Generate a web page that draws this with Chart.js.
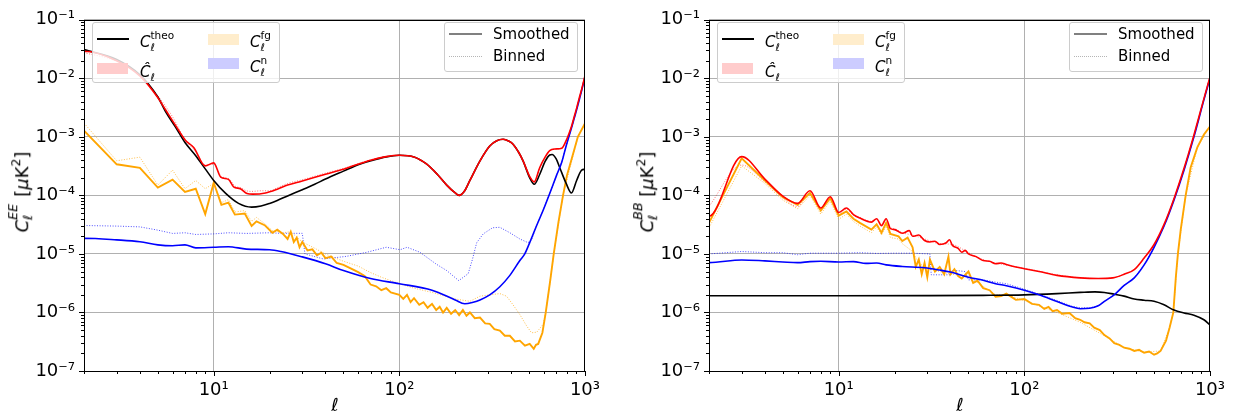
<!doctype HTML>
<html lang="en">
<head>
    <meta charset=utf-8>
    <title>EE / BB spectra</title>
    <style type="text/css">
        * { padding: 0; margin: 0; }
        body { width: 1234px; height: 419px; position: relative; overflow: hidden; background: #fff; font-family: 'DejaVu Sans'; color: #000; }
        .panel { position: absolute; top: 0; width: 609px; height: 419px; }
        canvas { position: absolute; left: 0; top: 0; }
        .box { position: absolute; box-sizing: border-box; background: rgba(255,255,255,0.8); border: 1px solid #ccc; border-radius: 3px; }
        .lg { position: absolute; font-size: 15px; line-height: 15px; white-space: nowrap; }
        .hl { position: absolute; height: 2px; }
        .dl { position: absolute; height: 0; border-top: 1px dotted #b5b5b5; }
        .patch { position: absolute; width: 31px; height: 11px; }
        .m { font-style: italic; }
        .ss { display: inline-block; position: relative; height: 1em; vertical-align: baseline; }
        .ss span { position: absolute; left: 0; font-size: 0.7em; line-height: 1; white-space: nowrap; }
        .ss .up { top: -0.17em; }
        .ss .dn { top: 1.01em; }
        .sq { font-size: 0.7em; vertical-align: 0.6em; }
        .xl { position: absolute; left: 335px; top: 396px; font-size: 18px; line-height: 18px; font-style: italic; transform: translateX(-50%); }
        .yl { position: absolute; left: 19px; top: 192px; font-size: 18px; line-height: 18px; white-space: nowrap; transform: translate(-50%, -50%) rotate(-90deg); }
    </style>
    <script src="https://cdn.jsdelivr.net/npm/chart.js"></script>
</head>
<body>
    <div class="panel" id="pEE" style="left:0"><canvas id="cEE" width="609" height="419"></canvas></div>
    <div class="panel" id="pBB" style="left:625px"><canvas id="cBB" width="609" height="419"></canvas></div>

    <script type="text/javascript">
        // axis decades
        const xMajor = [10, 100, 1000];
        const yMajor = [1e-7, 1e-6, 1e-5, 1e-4, 1e-3, 1e-2, 1e-1];

        // ---- EE panel ----
        const eeTheoL = [2, 3, 4, 5, 5.5, 6.2, 7, 8, 9, 10, 11.6, 13.6, 16, 18, 20, 22, 25, 30, 35, 40, 50, 60, 70, 85, 100, 120, 140, 160, 180, 200, 210, 225, 240, 272, 307, 335, 362, 390, 410, 440, 464, 504, 533, 571, 610, 646, 665, 700, 731, 792, 846, 902, 960, 1000];
        const eeTheoV = [3.1e-2, 2.1e-2, 1.15e-2, 4.8e-3, 2.7e-3, 1.5e-3, 8.0e-4, 4.75e-4, 2.84e-4, 1.8e-4, 1.08e-4, 7.3e-5, 6.3e-5, 6.6e-5, 7.3e-5, 8.2e-5, 9.8e-5, 1.25e-4, 1.55e-4, 1.9e-4, 2.6e-4, 3.35e-4, 3.9e-4, 4.55e-4, 4.85e-4, 4.55e-4, 3.45e-4, 2.3e-4, 1.5e-4, 1.1e-4, 1.0e-4, 1.2e-4, 1.8e-4, 3.9e-4, 7.0e-4, 8.6e-4, 9.1e-4, 8.4e-4, 7.5e-4, 5.4e-4, 3.9e-4, 2.0e-4, 1.55e-4, 2.3e-4, 3.8e-4, 4.9e-4, 5.0e-4, 4.2e-4, 3.0e-4, 1.6e-4, 1.1e-4, 1.8e-4, 2.7e-4, 2.8e-4];

        const eeHatL = [2, 2, 3, 4, 4.97, 5.5, 6.2, 7.05, 7.8, 9, 10, 10.9, 12, 12.8, 13.9, 15.1, 16.2, 19, 22.3, 25, 30, 40, 50, 70, 85, 100, 120, 140, 160, 180, 200, 210, 225, 240, 272, 307, 335, 362, 390, 410, 440, 464, 504, 533, 571, 610, 646, 690, 750, 792, 820, 846, 875, 902, 930, 960, 1000];
        const eeHatV = [1e-12, 2.9e-2, 2.0e-2, 1.1e-2, 4.8e-3, 2.9e-3, 1.6e-3, 8.7e-4, 6.6e-4, 3.2e-4, 3.6e-4, 2.06e-4, 1.88e-4, 1.4e-4, 1.3e-4, 1.08e-4, 1.05e-4, 1.1e-4, 1.3e-4, 1.5e-4, 1.76e-4, 2.3e-4, 2.8e-4, 4.0e-4, 4.6e-4, 4.85e-4, 4.55e-4, 3.45e-4, 2.3e-4, 1.5e-4, 1.1e-4, 1.0e-4, 1.2e-4, 1.8e-4, 3.9e-4, 7.0e-4, 8.6e-4, 9.1e-4, 8.4e-4, 7.5e-4, 5.4e-4, 3.9e-4, 2.1e-4, 1.7e-4, 3.0e-4, 4.5e-4, 5.8e-4, 6.2e-4, 6.4e-4, 8.6e-4, 1.13e-3, 1.5e-3, 2.2e-3, 3.1e-3, 4.5e-3, 6.5e-3, 1.1e-2];
        const eeHatBinL = [2, 3, 4, 5, 6, 7, 8, 9, 10, 11, 12, 13, 14, 15, 16, 18, 20, 22, 25, 30, 40, 50, 70, 85, 100, 120, 140, 160, 180, 200, 210, 225, 240, 272, 307, 362, 410, 464, 504, 533, 571, 610, 646, 690, 750, 792, 846, 902, 960, 1000];
        const eeHatBinV = [2.75e-2, 1.95e-2, 1.1e-2, 5.0e-3, 2.2e-3, 9.0e-4, 5.6e-4, 3.3e-4, 3.4e-4, 2.1e-4, 1.95e-4, 1.45e-4, 1.35e-4, 1.2e-4, 1.17e-4, 1.2e-4, 1.2e-4, 1.35e-4, 1.6e-4, 1.85e-4, 2.4e-4, 2.9e-4, 4.05e-4, 4.6e-4, 4.85e-4, 4.55e-4, 3.45e-4, 2.3e-4, 1.5e-4, 1.1e-4, 1.0e-4, 1.2e-4, 1.8e-4, 3.9e-4, 7.0e-4, 9.1e-4, 7.5e-4, 3.9e-4, 2.1e-4, 1.7e-4, 3.0e-4, 4.5e-4, 5.8e-4, 6.2e-4, 6.4e-4, 8.6e-4, 1.5e-3, 3.1e-3, 6.5e-3, 1.1e-2];

        const eeFgL = [2, 2, 3, 4, 5, 6, 7, 8, 9, 10, 11, 12, 13, 14.7, 16, 17, 18.8, 20.7, 22, 23.6, 25, 26, 27, 28, 29, 30, 32, 34, 36, 38, 40, 43, 46, 50, 55, 60, 65, 70, 75, 80, 85, 90, 100, 105, 110, 115, 120, 128, 135, 142, 150, 158, 165, 172, 180, 190, 200, 210, 220, 230, 240, 255, 272, 290, 307, 325, 348, 370, 394, 420, 446, 475, 504, 530, 545, 560, 590, 615, 650, 679, 720, 762, 800, 850, 916, 1000];
        const eeFgV = [1e-12, 1.28e-3, 3.4e-4, 2.95e-4, 1.36e-4, 1.86e-4, 1.15e-4, 1.3e-4, 4.8e-5, 1.65e-4, 6.9e-5, 7.5e-5, 4.7e-5, 4.9e-5, 3.0e-5, 3.6e-5, 3.1e-5, 2.3e-5, 2.6e-5, 2.2e-5, 1.8e-5, 2.4e-5, 1.6e-5, 1.9e-5, 1.3e-5, 1.6e-5, 1.15e-5, 1.2e-5, 9.5e-6, 1.05e-5, 8.5e-6, 9.0e-6, 7.0e-6, 6.5e-6, 5.6e-6, 4.9e-6, 4.2e-6, 3.0e-6, 2.8e-6, 2.4e-6, 2.6e-6, 2.2e-6, 2.0e-6, 1.7e-6, 2.0e-6, 1.5e-6, 1.75e-6, 1.35e-6, 1.5e-6, 1.2e-6, 1.4e-6, 1.1e-6, 1.25e-6, 1.0e-6, 1.2e-6, 9.5e-7, 1.1e-6, 9.0e-7, 1.1e-6, 8.8e-7, 1.0e-6, 8.0e-7, 8.2e-7, 6.5e-7, 6.4e-7, 5.2e-7, 4.9e-7, 4.0e-7, 4.0e-7, 3.2e-7, 3.3e-7, 2.7e-7, 2.9e-7, 2.4e-7, 2.8e-7, 2.9e-7, 4.5e-7, 1.0e-6, 3.5e-6, 1.0e-5, 3.5e-5, 1.0e-4, 2.2e-4, 4.3e-4, 1.0e-3, 1.7e-3];
        const eeFgBinL = [2, 3, 4, 5, 6, 7, 8, 9, 10, 11, 12, 13, 14.7, 16, 17, 18.8, 20.7, 23.6, 26, 30, 35, 40, 50, 60, 70, 80, 100, 120, 150, 200, 240, 272, 307, 348, 378, 410, 446, 485, 515, 550, 596, 615, 650, 679, 762, 916, 1000];
        const eeFgBinV = [1.72e-3, 3.9e-4, 4.5e-4, 1.5e-4, 2.7e-4, 1.3e-4, 1.8e-4, 1.3e-4, 1.6e-4, 7.5e-5, 8.5e-5, 5.2e-5, 5.5e-5, 3.6e-5, 4.2e-5, 3.3e-5, 2.5e-5, 2.3e-5, 2.4e-5, 1.6e-5, 1.25e-5, 1.0e-5, 7.5e-6, 6.2e-6, 4.8e-6, 4.0e-6, 3.1e-6, 2.6e-6, 2.2e-6, 1.7e-6, 1.55e-6, 1.9e-6, 2.0e-6, 2.1e-6, 1.9e-6, 1.35e-6, 9.2e-7, 5.9e-7, 4.5e-7, 4.6e-7, 6.3e-7, 1.0e-6, 3.5e-6, 1.0e-5, 1.0e-4, 1.0e-3, 1.7e-3];

        const eeNoiseL = [2, 2, 3, 4, 5, 6, 7, 8, 10, 12, 15, 20, 23, 30, 40, 50, 70, 100, 150, 200, 225, 250, 272, 307, 348, 394, 446, 474, 504, 548, 597, 646, 703, 750, 792, 846, 902, 960, 1000];
        const eeNoiseV = [1e-12, 1.85e-5, 1.74e-5, 1.62e-5, 1.43e-5, 1.38e-5, 1.43e-5, 1.27e-5, 1.3e-5, 1.33e-5, 1.21e-5, 1.18e-5, 1.1e-5, 8.9e-6, 6.8e-6, 5.2e-6, 3.8e-6, 3.1e-6, 2.4e-6, 1.64e-6, 1.41e-6, 1.5e-6, 1.64e-6, 2.0e-6, 2.75e-6, 4.3e-6, 7.7e-6, 1.0e-5, 1.56e-5, 3.0e-5, 5.7e-5, 1.08e-4, 2.2e-4, 3.7e-4, 7.0e-4, 1.42e-3, 2.9e-3, 6.2e-3, 1.05e-2];
        const eeNoiseBinL = [2, 3, 4, 5, 6, 7, 8, 10, 12, 15, 20, 23, 30, 31, 39, 52, 67, 85, 101, 110, 129, 158, 180, 209, 235, 248, 261, 283, 318, 348, 394, 446, 493, 515, 548, 597, 646, 703, 750, 792, 846, 902, 960, 1000];
        const eeNoiseBinV = [3.06e-5, 2.99e-5, 2.9e-5, 2.55e-5, 2.24e-5, 2.3e-5, 2.15e-5, 2.2e-5, 2.3e-5, 2.24e-5, 2.3e-5, 2.25e-5, 2.25e-5, 1.0e-5, 8.2e-6, 9.1e-6, 1.07e-5, 1.3e-5, 1.18e-5, 1.3e-5, 1.07e-5, 6.7e-6, 5.2e-6, 3.5e-6, 4.6e-6, 8.2e-6, 1.55e-5, 2.2e-5, 2.8e-5, 2.85e-5, 2.3e-5, 1.8e-5, 1.56e-5, 1.7e-5, 3.0e-5, 5.7e-5, 1.08e-4, 2.2e-4, 3.7e-4, 7.0e-4, 1.42e-3, 2.9e-3, 6.2e-3, 1.05e-2];

        // ---- BB panel ----
        const bbTheoL = [2, 10, 30, 60, 100, 150, 200, 240, 270, 305, 345, 391, 442, 500, 566, 640, 725, 820, 928, 1000];
        const bbTheoV = [1.93e-6, 1.93e-6, 1.94e-6, 1.96e-6, 2.0e-6, 2.1e-6, 2.2e-6, 2.25e-6, 2.2e-6, 2.05e-6, 1.9e-6, 1.7e-6, 1.62e-6, 1.55e-6, 1.35e-6, 1.1e-6, 9.8e-7, 9.0e-7, 7.5e-7, 6.1e-7];

        const bbHatL = [2, 2, 3, 4, 5, 6, 7, 8, 9, 10, 11, 12, 13, 15, 16, 17, 18, 19, 20, 22, 24, 25, 27, 29, 31, 33, 35, 38, 39.5, 41, 44, 46, 48, 50, 55, 60, 65, 70, 75, 80, 90, 100, 120, 150, 200, 250, 300, 345, 391, 442, 500, 566, 640, 725, 820, 928, 1000];
        const bbHatV = [1e-12, 4.4e-5, 4.6e-4, 1.9e-4, 9.7e-5, 7.3e-5, 1.2e-4, 6.1e-5, 9.5e-5, 5.1e-5, 6.1e-5, 4.7e-5, 4.1e-5, 3.5e-5, 4.0e-5, 3.05e-5, 4.0e-5, 2.7e-5, 2.6e-5, 2.25e-5, 2.5e-5, 2.0e-5, 2.1e-5, 1.7e-5, 1.6e-5, 1.65e-5, 1.45e-5, 1.55e-5, 1.75e-5, 1.4e-5, 1.25e-5, 1.07e-5, 1.15e-5, 1.0e-5, 9.0e-6, 7.7e-6, 7.5e-6, 6.8e-6, 7.0e-6, 6.6e-6, 6.0e-6, 5.6e-6, 5.0e-6, 4.3e-6, 3.9e-6, 3.8e-6, 3.9e-6, 4.5e-6, 5.4e-6, 8.5e-6, 1.45e-5, 3.2e-5, 8.8e-5, 2.9e-4, 1.08e-3, 4.5e-3, 1.05e-2];
        const bbHatBinL = [2, 3, 4, 5, 6, 7, 8, 9, 10, 11, 12, 13, 15, 16, 17, 18, 19, 20, 22, 25, 29, 35, 41, 50, 60, 70, 100, 150, 200, 250, 300, 345, 391, 442, 500, 566, 640, 725, 820, 928, 1000];
        const bbHatBinV = [6.5e-5, 3.3e-4, 1.7e-4, 9.0e-5, 6.5e-5, 1.1e-4, 5.6e-5, 9.0e-5, 4.8e-5, 5.8e-5, 4.6e-5, 4.2e-5, 3.6e-5, 3.9e-5, 3.1e-5, 3.8e-5, 2.8e-5, 2.7e-5, 2.3e-5, 2.1e-5, 1.8e-5, 1.5e-5, 1.45e-5, 1.05e-5, 8.0e-6, 7.0e-6, 5.7e-6, 4.4e-6, 3.9e-6, 3.8e-6, 3.9e-6, 4.5e-6, 5.4e-6, 8.5e-6, 1.45e-5, 3.2e-5, 8.8e-5, 2.9e-4, 1.08e-3, 4.5e-3, 1.05e-2];

        const bbFgL = [2, 2, 3, 4, 5, 6, 7, 8, 9, 10, 11, 12, 13, 15, 16, 17, 18, 19, 21, 22, 23.5, 25, 26, 27, 28, 29, 30, 31, 33, 35, 37, 39, 40, 42, 44, 46, 50, 53, 56, 60, 65, 70, 75, 80, 90, 100, 110, 120, 128, 135, 142, 150, 160, 175, 188, 200, 211, 225, 238, 255, 270, 288, 305, 325, 345, 368, 391, 415, 442, 470, 500, 520, 542, 580, 606, 635, 655, 672, 696, 740, 787, 855, 928, 1000];
        const bbFgV = [1e-12, 3.4e-5, 4.3e-4, 1.8e-4, 9.3e-5, 6.9e-5, 1.1e-4, 5.5e-5, 9.0e-5, 4.5e-5, 5.3e-5, 4.0e-5, 3.4e-5, 2.6e-5, 3.2e-5, 2.3e-5, 3.4e-5, 2.2e-5, 2.0e-5, 1.66e-5, 1.9e-5, 1.3e-5, 6.0e-6, 8.0e-6, 4.5e-6, 7.0e-6, 4.0e-6, 8.0e-6, 5.0e-6, 6.0e-6, 4.5e-6, 9.0e-6, 4.5e-6, 5.5e-6, 4.2e-6, 3.8e-6, 5.0e-6, 3.2e-6, 3.5e-6, 2.6e-6, 2.4e-6, 1.86e-6, 1.9e-6, 2.1e-6, 1.64e-6, 1.7e-6, 1.4e-6, 1.35e-6, 1.15e-6, 1.25e-6, 1.05e-6, 1.1e-6, 9.5e-7, 9.8e-7, 8.0e-7, 7.5e-7, 6.8e-7, 6.5e-7, 5.5e-7, 5.0e-7, 4.1e-7, 3.6e-7, 3.0e-7, 2.8e-7, 2.5e-7, 2.4e-7, 2.2e-7, 2.3e-7, 2.05e-7, 2.15e-7, 1.9e-7, 2.0e-7, 2.2e-7, 3.3e-7, 5.5e-7, 1.0e-6, 4.0e-6, 1.0e-5, 2.6e-5, 1.0e-4, 3.0e-4, 6.6e-4, 1.1e-3, 1.5e-3];
        const bbFgBinL = [2, 3, 4, 5, 6, 7, 8, 9, 10, 11, 12, 13, 15, 16, 17, 18, 19, 21, 22, 25, 27, 29, 31, 35, 40, 50, 60, 70, 80, 100, 150, 200, 270, 345, 442, 542, 606, 635, 672, 740, 855, 1000];
        const bbFgBinV = [2.8e-5, 3.2e-4, 1.6e-4, 8.3e-5, 5.9e-5, 1.0e-4, 4.8e-5, 8.0e-5, 3.9e-5, 4.8e-5, 3.6e-5, 3.0e-5, 2.3e-5, 2.9e-5, 2.1e-5, 3.0e-5, 1.9e-5, 1.8e-5, 1.5e-5, 1.1e-5, 7e-6, 6e-6, 5.5e-6, 5e-6, 4.5e-6, 4.2e-6, 2.8e-6, 2.0e-6, 2.0e-6, 1.6e-6, 1.0e-6, 6.8e-7, 4.0e-7, 2.5e-7, 2.1e-7, 2.2e-7, 5.5e-7, 1.0e-6, 1.0e-5, 1.0e-4, 6.6e-4, 1.5e-3];

        const bbNoiseL = [2, 2, 3, 4, 5, 6, 7, 8, 10, 12, 14, 16, 18, 22, 29, 35, 40, 50, 60, 70, 80, 100, 120, 150, 180, 200, 225, 250, 270, 305, 345, 391, 442, 500, 566, 640, 725, 820, 928, 1000];
        const bbNoiseV = [1e-12, 7.1e-6, 7.9e-6, 7.6e-6, 7.3e-6, 7.1e-6, 7.4e-6, 7.5e-6, 7.3e-6, 7.4e-6, 6.9e-6, 7.0e-6, 6.5e-6, 6.1e-6, 5.8e-6, 5.3e-6, 4.9e-6, 4.0e-6, 3.55e-6, 3.1e-6, 2.86e-6, 2.4e-6, 2.0e-6, 1.54e-6, 1.25e-6, 1.16e-6, 1.18e-6, 1.3e-6, 1.55e-6, 2.0e-6, 2.9e-6, 3.9e-6, 6.5e-6, 1.3e-5, 3.0e-5, 8.3e-5, 2.7e-4, 1.0e-3, 4.3e-3, 1.0e-2];
        const bbNoiseBinL = [2, 3, 4, 5, 6, 7, 9, 10, 13, 16, 20, 25, 31, 31.5, 40, 41, 48, 50, 60, 70, 80, 100, 120, 150, 180, 200, 225, 250, 270, 305, 345, 391, 442, 500, 566, 640, 725, 820, 928, 1000];
        const bbNoiseBinV = [1.0e-5, 1.1e-5, 1.05e-5, 1.05e-5, 9.7e-6, 1.03e-5, 1.03e-5, 1.03e-5, 1.05e-5, 1.02e-5, 1.03e-5, 1.03e-5, 1.0e-5, 4.4e-6, 4.4e-6, 5.3e-6, 5.0e-6, 3.6e-6, 3.6e-6, 3.3e-6, 3.1e-6, 2.5e-6, 2.05e-6, 1.6e-6, 1.28e-6, 1.2e-6, 1.2e-6, 1.3e-6, 1.55e-6, 2.0e-6, 2.9e-6, 3.9e-6, 6.5e-6, 1.3e-5, 3.0e-5, 8.3e-5, 2.7e-4, 1.0e-3, 4.3e-3, 1.0e-2];

        // ---- helpers ----
        const SUP = {'-': '⁻', '0': '⁰', '1': '¹', '2': '²', '3': '³', '4': '⁴', '5': '⁵', '6': '⁶', '7': '⁷', '8': '⁸', '9': '⁹'};
        const pow10 = v => '10' + String(Math.round(Math.log10(v))).split('').map(c => SUP[c]).join('');

        function withMinors(majors, lo) {
            const out = [];
            majors.forEach((d, i) => {
                if (d >= lo) out.push({value: d, major: true});
                if (i < majors.length - 1) {
                    for (let m = 2; m < 10; m++) {
                        if (m * d >= lo) out.push({value: m * d, major: false});
                    }
                }
            });
            return out;
        }
        const xTicks = withMinors([1, 10, 100, 1000], 2).map(t => ({value: t.value, major: xMajor.includes(t.value)}));
        const yTicks = withMinors(yMajor, 1e-7);

        function line(ls, vs, color, extra) {
            return Object.assign({
                data: ls.map((l, i) => ({x: l, y: vs[i]})),
                borderColor: color,
                borderWidth: 1.6,
                pointRadius: 0,
                fill: false,
                cubicInterpolationMode: 'monotone'
            }, extra || {});
        }
        const dotted = {borderWidth: 1, borderDash: [1, 1.6]};
        const jagged = {cubicInterpolationMode: 'default', tension: 0};

        // spines and tick marks, drawn over the curves like matplotlib does
        const frame = {
            id: 'frame',
            afterDatasetsDraw(chart) {
                const {ctx, chartArea: a, scales} = chart;
                const l = Math.round(a.left), r = Math.round(a.right), t = Math.round(a.top), b = Math.round(a.bottom);
                ctx.save();
                ctx.strokeStyle = '#000';
                ctx.lineWidth = 1;
                ctx.beginPath();
                scales.x.ticks.forEach(tk => {
                    const p = Math.round(scales.x.getPixelForValue(tk.value)) + 0.5;
                    ctx.moveTo(p, b);
                    ctx.lineTo(p, b + (tk.major ? 5 : 3));
                });
                scales.y.ticks.forEach(tk => {
                    const p = Math.round(scales.y.getPixelForValue(tk.value)) + 0.5;
                    ctx.moveTo(l, p);
                    ctx.lineTo(l - (tk.major ? 5 : 3), p);
                });
                ctx.stroke();
                ctx.strokeRect(l + 0.5, t + 0.5, r - l - 1, b - t);
                ctx.restore();
            }
        };

        Chart.defaults.font.family = 'DejaVu Sans';
        Chart.defaults.color = '#000';

        function makeChart(id, datasets) {
            return new Chart(document.getElementById(id), {
                type: 'line',
                data: {datasets},
                options: {
                    responsive: false,
                    animation: false,
                    events: [],
                    layout: {padding: {top: 13, right: 23, bottom: 0, left: 0}},
                    plugins: {legend: {display: false}, tooltip: {enabled: false}},
                    scales: {
                        x: {
                            type: 'logarithmic', min: 2, max: 1000,
                            afterFit: s => { s.height = 48; },
                            afterBuildTicks: s => { s.ticks = xTicks.map(t => ({...t})); },
                            ticks: {autoSkip: false, maxRotation: 0, minRotation: 0, padding: 9, font: {size: 18},
                                callback: (v, i, ticks) => ticks[i].major ? pow10(v) : ''},
                            grid: {drawTicks: false, lineWidth: 1, color: c => c.tick && c.tick.major ? '#b0b0b0' : 'rgba(0,0,0,0)'},
                            border: {display: false}
                        },
                        y: {
                            type: 'logarithmic', min: 1e-7, max: 1e-1,
                            afterFit: s => { s.width = 84; },
                            afterBuildTicks: s => { s.ticks = yTicks.map(t => ({...t})); },
                            ticks: {autoSkip: false, padding: 9, font: {size: 18},
                                callback: (v, i, ticks) => ticks[i].major ? pow10(v) : ''},
                            grid: {drawTicks: false, lineWidth: 1, color: c => c.tick && c.tick.major ? '#b0b0b0' : 'rgba(0,0,0,0)'},
                            border: {display: false}
                        }
                    }
                },
                plugins: [frame]
            });
        }

        // first dataset is drawn on top
        const fgStyle = Object.assign({}, jagged, {borderWidth: 1.9});
        makeChart('cEE', [
            line(eeHatL, eeHatV, '#ff0000'),
            line(eeNoiseL, eeNoiseV, '#0000ff'),
            line(eeTheoL, eeTheoV, '#000000'),
            line(eeFgL, eeFgV, '#ffa500', fgStyle),
            line(eeHatBinL, eeHatBinV, 'rgba(255,0,0,0.55)', dotted),
            line(eeNoiseBinL, eeNoiseBinV, 'rgba(0,0,255,0.7)', Object.assign({}, dotted, jagged)),
            line(eeFgBinL, eeFgBinV, 'rgba(255,165,0,0.7)', Object.assign({}, dotted, jagged))
        ]);
        makeChart('cBB', [
            line(bbHatL, bbHatV, '#ff0000'),
            line(bbNoiseL, bbNoiseV, '#0000ff'),
            line(bbTheoL, bbTheoV, '#000000'),
            line(bbFgL, bbFgV, '#ffa500', fgStyle),
            line(bbHatBinL, bbHatBinV, 'rgba(255,0,0,0.55)', dotted),
            line(bbNoiseBinL, bbNoiseBinV, 'rgba(0,0,255,0.7)', Object.assign({}, dotted, jagged)),
            line(bbFgBinL, bbFgBinV, 'rgba(255,165,0,0.7)', Object.assign({}, dotted, jagged))
        ]);

        // legends and axis titles as text on top of the canvases
        function overlay(panelId, pol) {
            document.getElementById(panelId).insertAdjacentHTML('beforeend', `
                <div class="box" style="left:92px;top:22px;width:188px;height:61px"></div>
                <div class="hl" style="left:97px;top:38px;width:32px;background:#000"></div>
                <div class="lg" style="left:140px;top:31.5px"><span class="m">C</span><span class="ss" style="width:1.6em"><span class="up">theo</span><span class="dn m">ℓ</span></span></div>
                <div class="patch" style="left:97px;top:63px;background:#ffcccc"></div>
                <div class="lg" style="left:140px;top:61.5px"><span class="m">Ĉ</span><span class="ss" style="width:0.35em"><span class="dn m">ℓ</span></span></div>
                <div class="patch" style="left:208px;top:33.5px;background:#ffedcc"></div>
                <div class="lg" style="left:250px;top:31.5px"><span class="m">C</span><span class="ss" style="width:0.75em"><span class="up">fg</span><span class="dn m">ℓ</span></span></div>
                <div class="patch" style="left:208px;top:58px;background:#ccccff"></div>
                <div class="lg" style="left:250px;top:56.5px"><span class="m">C</span><span class="ss" style="width:0.5em"><span class="up">n</span><span class="dn m">ℓ</span></span></div>
                <div class="box" style="left:444px;top:22px;width:134px;height:50px"></div>
                <div class="hl" style="left:449px;top:33px;width:33px;background:#808080"></div>
                <div class="lg" style="left:493px;top:26.5px">Smoothed</div>
                <div class="dl" style="left:449px;top:56px;width:33px"></div>
                <div class="lg" style="left:493px;top:48.5px">Binned</div>
                <div class="xl">ℓ</div>
                <div class="yl"><span class="m">C</span><span class="ss" style="width:0.95em"><span class="up m">${pol}</span><span class="dn m">ℓ</span></span> [<span class="m">μ</span>K<span class="sq">2</span>]</div>
            `);
        }
        overlay('pEE', 'EE');
        overlay('pBB', 'BB');
    </script>
</body>
</html>
